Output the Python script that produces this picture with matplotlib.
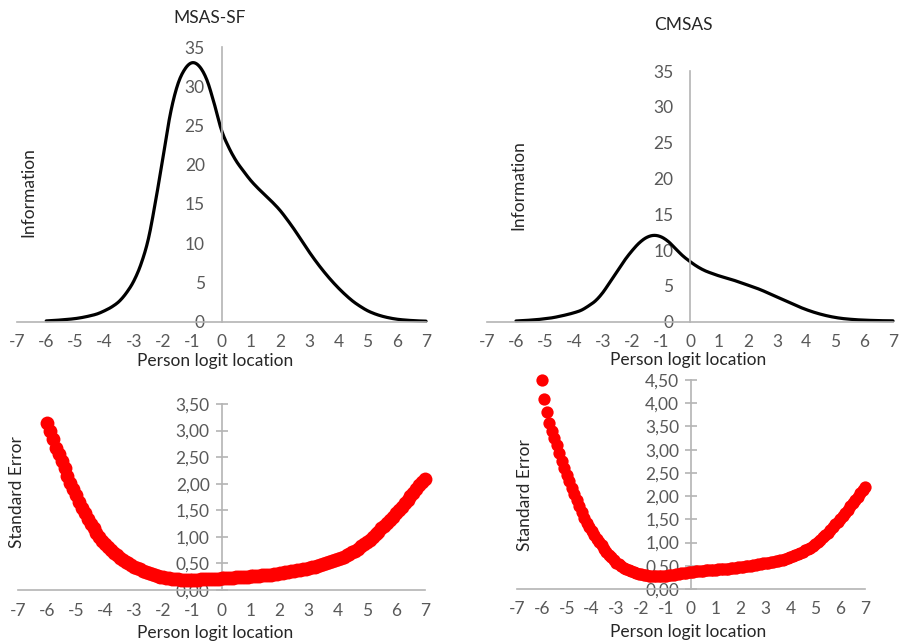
import numpy as np
import matplotlib
matplotlib.use("Agg")
import matplotlib.pyplot as plt
from matplotlib.ticker import FuncFormatter

plt.rcParams['font.family'] = ['Lato', 'DejaVu Sans']

# ---------------- data ----------------
x_ticks = [-7, -6, -5, -4, -3, -2, -1, 0, 1, 2, 3, 4, 5, 6, 7]

info_theta = [-6.0, -5.75, -5.5, -5.25, -5.0, -4.75, -4.5, -4.25, -4.0, -3.75, -3.5, -3.25,
              -3.0, -2.75, -2.5, -2.25, -2.0, -1.75, -1.5, -1.25, -1.0, -0.75, -0.5, -0.25,
              0.0, 0.25, 0.5, 0.75, 1.0, 1.25, 1.5, 1.75, 2.0, 2.25, 2.5, 2.75, 3.0, 3.25,
              3.5, 3.75, 4.0, 4.25, 4.5, 4.75, 5.0, 5.25, 5.5, 5.75, 6.0, 6.25, 6.5, 6.75, 7.0]

info_msas = [0.10, 0.15, 0.22, 0.30, 0.40, 0.55, 0.75, 1.0, 1.4, 1.9, 2.6, 3.7,
             5.2, 7.4, 10.6, 15.5, 21.0, 26.5, 30.2, 32.2, 33.0, 32.5, 30.8, 27.8,
             24.4, 22.2, 20.5, 19.2, 18.0, 17.0, 16.1, 15.2, 14.2, 13.0, 11.7, 10.3, 8.9, 7.6,
             6.4, 5.3, 4.3, 3.4, 2.6, 1.95, 1.4, 1.0, 0.7, 0.48, 0.32, 0.22, 0.15, 0.10, 0.07]

info_cmsas = [0.10, 0.15, 0.22, 0.30, 0.42, 0.55, 0.75, 0.98, 1.25, 1.6, 2.2, 2.95,
              4.1, 5.6, 7.1, 8.6, 9.9, 11.0, 11.75, 12.05, 11.85, 11.2, 10.2, 9.2,
              8.4, 7.7, 7.15, 6.75, 6.4, 6.1, 5.8, 5.45, 5.1, 4.75, 4.35, 3.9, 3.45, 3.0,
              2.55, 2.1, 1.7, 1.35, 1.05, 0.8, 0.6, 0.45, 0.35, 0.27, 0.22, 0.18, 0.15, 0.13, 0.12]

se_theta = [-6.0, -5.9, -5.8, -5.7, -5.6, -5.5, -5.4, -5.3, -5.2, -5.1,
            -5.0, -4.9, -4.8, -4.7, -4.6, -4.5, -4.4, -4.3, -4.2, -4.1,
            -4.0, -3.9, -3.8, -3.7, -3.6, -3.5, -3.4, -3.3, -3.2, -3.1,
            -3.0, -2.9, -2.8, -2.7, -2.6, -2.5, -2.4, -2.3, -2.2, -2.1,
            -2.0, -1.9, -1.8, -1.7, -1.6, -1.5, -1.4, -1.3, -1.2, -1.1,
            -1.0, -0.9, -0.8, -0.7, -0.6, -0.5, -0.4, -0.3, -0.2, -0.1,
            0.0, 0.1, 0.2, 0.3, 0.4, 0.5, 0.6, 0.7, 0.8, 0.9,
            1.0, 1.1, 1.2, 1.3, 1.4, 1.5, 1.6, 1.7, 1.8, 1.9,
            2.0, 2.1, 2.2, 2.3, 2.4, 2.5, 2.6, 2.7, 2.8, 2.9,
            3.0, 3.1, 3.2, 3.3, 3.4, 3.5, 3.6, 3.7, 3.8, 3.9,
            4.0, 4.1, 4.2, 4.3, 4.4, 4.5, 4.6, 4.7, 4.8, 4.9,
            5.0, 5.1, 5.2, 5.3, 5.4, 5.5, 5.6, 5.7, 5.8, 5.9,
            6.0, 6.1, 6.2, 6.3, 6.4, 6.5, 6.6, 6.7, 6.8, 6.9, 7.0]

se_msas = [3.15, 2.99, 2.84, 2.68, 2.55, 2.42, 2.29, 2.15, 2.02, 1.90,
           1.78, 1.66, 1.55, 1.44, 1.34, 1.25, 1.16, 1.07, 0.99, 0.92,
           0.86, 0.80, 0.75, 0.70, 0.65, 0.61, 0.57, 0.53, 0.50, 0.47,
           0.44, 0.41, 0.39, 0.36, 0.34, 0.32, 0.30, 0.28, 0.26, 0.25,
           0.24, 0.23, 0.22, 0.21, 0.20, 0.20, 0.19, 0.19, 0.19, 0.19,
           0.19, 0.19, 0.19, 0.20, 0.20, 0.20, 0.20, 0.21, 0.21, 0.21,
           0.22, 0.22, 0.22, 0.23, 0.23, 0.24, 0.24, 0.24, 0.25, 0.25,
           0.26, 0.26, 0.27, 0.27, 0.28, 0.28, 0.29, 0.29, 0.30, 0.31,
           0.32, 0.32, 0.33, 0.34, 0.35, 0.36, 0.37, 0.38, 0.39, 0.40,
           0.41, 0.43, 0.44, 0.46, 0.47, 0.49, 0.50, 0.52, 0.54, 0.56,
           0.58, 0.61, 0.63, 0.66, 0.68, 0.71, 0.74, 0.78, 0.82, 0.86,
           0.91, 0.95, 1.00, 1.05, 1.10, 1.16, 1.21, 1.26, 1.32, 1.38,
           1.44, 1.50, 1.57, 1.63, 1.70, 1.77, 1.83, 1.90, 1.97, 2.03, 2.09]

se_cmsas = [4.50, 4.10, 3.82, 3.57, 3.40, 3.26, 3.10, 2.92, 2.76, 2.60,
            2.46, 2.32, 2.18, 2.04, 1.91, 1.78, 1.65, 1.53, 1.43, 1.34,
            1.25, 1.16, 1.08, 1.01, 0.94, 0.87, 0.80, 0.74, 0.68, 0.62,
            0.57, 0.53, 0.49, 0.46, 0.43, 0.40, 0.38, 0.36, 0.34, 0.33,
            0.32, 0.31, 0.30, 0.29, 0.29, 0.28, 0.28, 0.28, 0.28, 0.29,
            0.29, 0.30, 0.31, 0.31, 0.32, 0.33, 0.34, 0.35, 0.35, 0.36,
            0.37, 0.37, 0.38, 0.38, 0.39, 0.39, 0.40, 0.40, 0.40, 0.41,
            0.41, 0.42, 0.42, 0.43, 0.43, 0.44, 0.45, 0.45, 0.46, 0.47,
            0.47, 0.48, 0.49, 0.50, 0.50, 0.51, 0.52, 0.53, 0.54, 0.55,
            0.56, 0.57, 0.58, 0.59, 0.60, 0.61, 0.62, 0.63, 0.65, 0.67,
            0.69, 0.71, 0.73, 0.75, 0.77, 0.80, 0.83, 0.86, 0.89, 0.93,
            0.97, 1.01, 1.06, 1.11, 1.16, 1.21, 1.27, 1.33, 1.39, 1.45,
            1.51, 1.57, 1.64, 1.71, 1.78, 1.85, 1.92, 1.99, 2.06, 2.13, 2.19]

info_yticks = [0, 5, 10, 15, 20, 25, 30, 35]
se_yticks_msas = [0, 0.5, 1.0, 1.5, 2.0, 2.5, 3.0, 3.5]
se_yticks_cmsas = [0, 0.5, 1.0, 1.5, 2.0, 2.5, 3.0, 3.5, 4.0, 4.5]

titles = ["MSAS-SF", "CMSAS"]
xlabel = "Person logit location"


def smooth(xs, ys, n=12):
    """Catmull-Rom rendering of a smoothed line (like a spreadsheet 'smoothed line')."""
    xs = np.asarray(xs, float)
    ys = np.asarray(ys, float)
    px = np.concatenate([[2 * xs[0] - xs[1]], xs, [2 * xs[-1] - xs[-2]]])
    py = np.concatenate([[2 * ys[0] - ys[1]], ys, [2 * ys[-1] - ys[-2]]])
    ox, oy = [], []
    t = np.linspace(0, 1, n, endpoint=False)
    for i in range(1, len(px) - 2):
        for P, out in ((px, ox), (py, oy)):
            p0, p1, p2, p3 = P[i - 1], P[i], P[i + 1], P[i + 2]
            out.extend(0.5 * ((2 * p1) + (-p0 + p2) * t + (2 * p0 - 5 * p1 + 4 * p2 - p3) * t ** 2
                              + (-p0 + 3 * p1 - 3 * p2 + p3) * t ** 3))
    ox.append(xs[-1])
    oy.append(ys[-1])
    return np.array(ox), np.array(oy)


# ---------------- layout ----------------
W, H = 899, 644
fig = plt.figure(figsize=(W / 100, H / 100), dpi=100)

AX_COL = '#b4b4b4'
TICK_COL = '#595959'
TXT_COL = '#262626'
FS_TICK = 12.5
FS_LAB = 12.5


def add_ax(x0, x1, ytop, ybot):
    return fig.add_axes([x0 / W, 1 - ybot / H, (x1 - x0) / W, (ybot - ytop) / H])


def style(ax, ymax, yticks, se=False):
    ax.set_xlim(-7, 7)
    ax.set_ylim(0, ymax)
    ax.set_facecolor('none')
    for s in ['top', 'right']:
        ax.spines[s].set_visible(False)
    ax.spines['left'].set_position(('data', 0))
    ax.spines['left'].set_color(AX_COL)
    ax.spines['bottom'].set_color(AX_COL)
    ax.spines['left'].set_linewidth(1.2)
    ax.spines['bottom'].set_linewidth(1.2)
    ax.set_xticks(x_ticks)
    ax.set_xticklabels([str(v) for v in x_ticks])
    ax.set_yticks(yticks)
    ax.tick_params(axis='x', length=0, pad=9, labelsize=FS_TICK, labelcolor=TICK_COL)
    if se:
        ax.yaxis.set_major_formatter(FuncFormatter(lambda v, p: f"{v:.2f}".replace('.', ',')))
        ax.tick_params(axis='y', direction='inout', length=9, width=1.2, color=AX_COL,
                       pad=4, labelsize=FS_TICK, labelcolor=TICK_COL)
    else:
        ax.tick_params(axis='y', length=0, pad=12, labelsize=FS_TICK, labelcolor=TICK_COL)


ax1 = add_ax(17, 426, 47, 321.7)
style(ax1, 35, info_yticks)
sx, sy = smooth(info_theta, info_msas)
ax1.plot(sx, sy, color='black', lw=2.3, solid_capstyle='round', clip_on=False)

ax2 = add_ax(487, 893, 71, 321.7)
style(ax2, 35, info_yticks)
sx, sy = smooth(info_theta, info_cmsas)
ax2.plot(sx, sy, color='black', lw=2.3, solid_capstyle='round', clip_on=False)

ax3 = add_ax(18, 425, 404, 590)
style(ax3, 3.5, se_yticks_msas, se=True)
ax3.scatter(se_theta, se_msas, s=100, color='#ff0000', linewidths=0, clip_on=False, zorder=3)

ax4 = add_ax(517, 865, 380, 589)
style(ax4, 4.5, se_yticks_cmsas, se=True)
ax4.scatter(se_theta, se_cmsas, s=78, color='#ff0000', linewidths=0, clip_on=False, zorder=3)


def ftext(x, y, s, **kw):
    fig.text(x / W, 1 - y / H, s, ha='center', va='center', color=TXT_COL, **kw)


ftext(210, 18, titles[0], fontsize=FS_LAB)
ftext(683, 25, titles[1], fontsize=FS_LAB)
ftext(28, 192, "Information", fontsize=FS_LAB, rotation=90)
ftext(518, 185, "Information", fontsize=FS_LAB, rotation=90)
ftext(17, 492, "Standard Error", fontsize=FS_LAB, rotation=90)
ftext(525, 495, "Standard Error", fontsize=FS_LAB, rotation=90)
ftext(215, 361, xlabel, fontsize=FS_LAB)
ftext(688, 360, xlabel, fontsize=FS_LAB)
ftext(215, 633, xlabel, fontsize=FS_LAB)
ftext(688, 632, xlabel, fontsize=FS_LAB)

fig.savefig("out.png", dpi=100)
